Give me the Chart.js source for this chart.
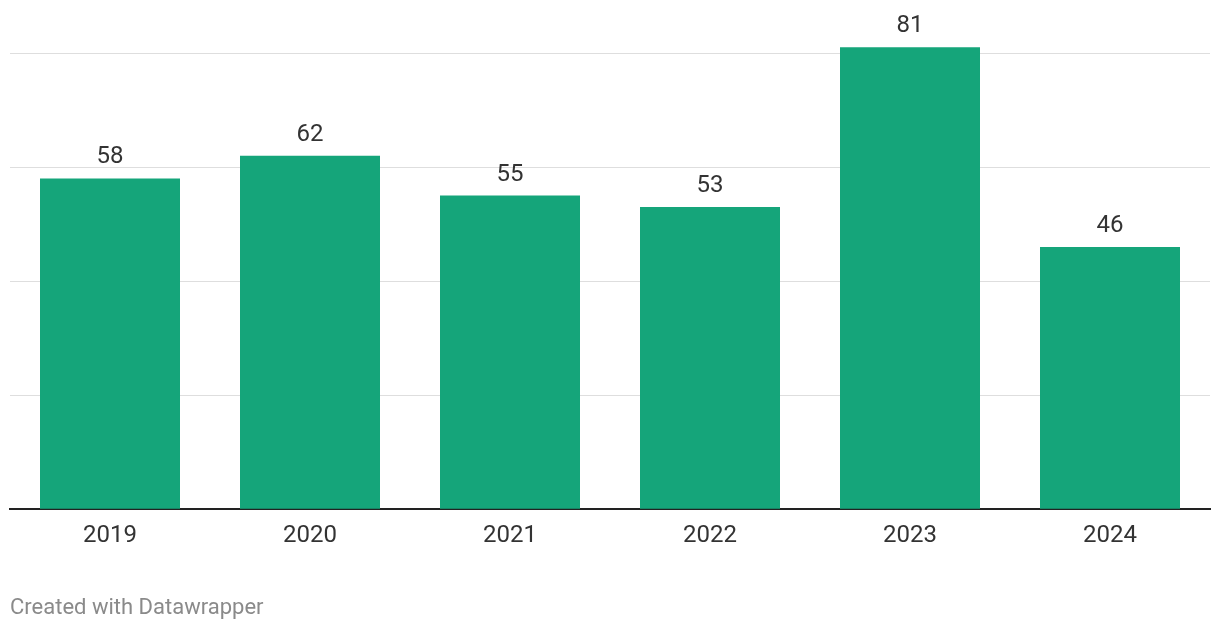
<!DOCTYPE html>
<html>
<head>
<meta charset="utf-8">
<script src="https://cdn.jsdelivr.net/npm/chart.js@4"></script>
<style>
  body { margin: 0; background: #fff; }
  #wrap { position: relative; width: 1220px; height: 630px; }
  #footer {
    position: absolute; left: 10px; top: 594px;
    font-family: Roboto, sans-serif; font-size: 22px; color: #8a8a8a;
  }
</style>
</head>
<body>
<div id="wrap">
  <canvas id="chart" width="1220" height="630"></canvas>
  <div id="footer">Created with Datawrapper</div>
</div>
<script>
const years = ['2019', '2020', '2021', '2022', '2023', '2024'];
const values = [58, 62, 55, 53, 81, 46];
const gridTicks = [0, 20, 40, 60, 80];

const barColor = '#15a57a';

const valueLabels = {
  id: 'valueLabels',
  afterDatasetsDraw(chart) {
    const ctx = chart.ctx;
    const meta = chart.getDatasetMeta(0);
    ctx.save();
    ctx.font = '24px Roboto, sans-serif';
    ctx.fillStyle = '#333';
    ctx.textAlign = 'center';
    ctx.textBaseline = 'alphabetic';
    meta.data.forEach((bar, i) => {
      ctx.fillText(String(values[i]), bar.x, bar.y - 15);
    });
    ctx.restore();
  }
};

new Chart(document.getElementById('chart').getContext('2d'), {
  type: 'bar',
  data: {
    labels: years,
    datasets: [{
      data: values,
      backgroundColor: barColor,
      borderWidth: 0,
      categoryPercentage: 1,
      barPercentage: 0.7
    }]
  },
  options: {
    responsive: false,
    animation: false,
    layout: { padding: { left: 10, right: 10, top: 0, bottom: 68 } },
    plugins: { legend: { display: false }, tooltip: { enabled: false } },
    scales: {
      x: {
        grid: { display: false, drawTicks: false },
        border: { display: true, color: '#222', width: 2 },
        ticks: { color: '#333', font: { family: 'Roboto', size: 24 }, padding: 12 }
      },
      y: {
        min: 0,
        max: 89.3,
        afterBuildTicks(axis) { axis.ticks = gridTicks.map(v => ({ value: v })); },
        grid: { color: '#dedede', drawTicks: false, lineWidth: 1 },
        border: { display: false },
        ticks: { display: false }
      }
    }
  },
  plugins: [valueLabels]
});
</script>
</body>
</html>
